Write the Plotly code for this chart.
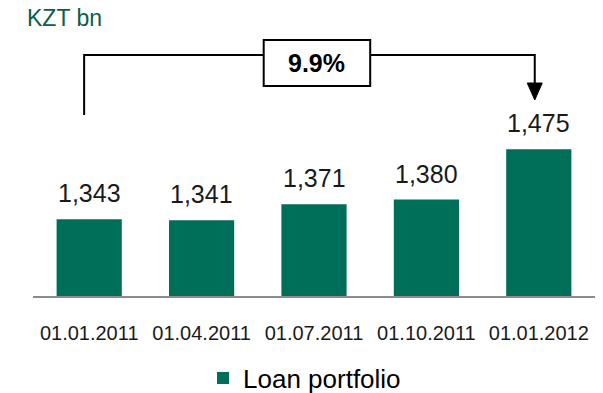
import plotly.graph_objects as go

# Loan portfolio, KZT bn
dates = ["01.01.2011", "01.04.2011", "01.07.2011", "01.10.2011", "01.01.2012"]
loans = [1343, 1341, 1371, 1380, 1475]
growth_label = "9.9%"
series_name = "Loan portfolio"
unit_label = "KZT bn"

BAR_COLOR = "#006f59"
TEXT_COLOR = "#1a1a1a"
FONT = "Liberation Sans, Arial, sans-serif"

x_idx = list(range(len(dates)))

fig = go.Figure()
fig.add_trace(go.Bar(
    x=x_idx, y=loans, name=series_name,
    marker=dict(color=BAR_COLOR, line=dict(width=0)),
    showlegend=True,
))

# value labels above each bar
for i, v in zip(x_idx, loans):
    fig.add_annotation(
        x=i, y=v, xref="x", yref="y", text=f"{v:,}", showarrow=False,
        yanchor="middle", yshift=26,
        font=dict(family=FONT, size=25, color=TEXT_COLOR),
    )

# growth bracket from first to last period
y_lo, y_hi = 1198, 1719
px_per_unit = 276 / (y_hi - y_lo)


def yv(p):
    """plot-area pixel row -> data value"""
    return y_lo + (296 - p) / px_per_unit


x_start = x_idx[0] - 0.045
x_end = x_idx[-1] - 0.036
line = dict(color="black", width=2)
fig.add_shape(type="path", xref="x", yref="y",
              path=f"M {x_start},{yv(115)} L {x_start},{yv(55)} L {x_end},{yv(55)} L {x_end},{yv(84)}",
              line=line)
half_w = 7.5 / 112.4
fig.add_shape(type="path", xref="x", yref="y",
              path=f"M {x_end - half_w},{yv(83)} L {x_end + half_w},{yv(83)} L {x_end},{yv(100)} Z",
              fillcolor="black", line=dict(color="black", width=1))
fig.add_shape(type="rect", xref="x", yref="y",
              x0=1.5525, x1=2.5, y0=yv(86), y1=yv(40),
              fillcolor="white", line=line)
fig.add_annotation(x=2.026, y=yv(63), xref="x", yref="y", text=f"<b>{growth_label}</b>",
                   showarrow=False, font=dict(family=FONT, size=25, color="black"))

# unit caption
fig.add_annotation(x=(25 - 33) / 562, y=(296 - 18) / 276, xref="paper", yref="paper",
                   xanchor="left", yanchor="middle", text=unit_label, showarrow=False,
                   font=dict(family=FONT, size=23, color="#0b5e4c"))

fig.update_layout(
    width=603, height=393,
    margin=dict(l=33, r=8, t=20, b=97),
    paper_bgcolor="white", plot_bgcolor="white",
    bargap=0.42,
    font=dict(family=FONT, color=TEXT_COLOR),
    xaxis=dict(
        range=[-0.5, len(dates) - 0.5],
        tickmode="array", tickvals=x_idx, ticktext=dates,
        tickfont=dict(family=FONT, size=20, color=TEXT_COLOR),
        showline=True, linecolor="#8c8c8c", linewidth=2,
        showgrid=False, zeroline=False, ticks="",
        ticklabelstandoff=18,
    ),
    yaxis=dict(range=[y_lo, y_hi], visible=False, showgrid=False, zeroline=False),
    legend=dict(
        orientation="h", xref="container", yref="container",
        x=0.505, xanchor="center", y=(393 - 378) / 393, yanchor="middle",
        font=dict(family=FONT, size=26, color="black"),
        itemwidth=30, itemclick=False,
    ),
    showlegend=True,
)

fig.write_html("out.html")
